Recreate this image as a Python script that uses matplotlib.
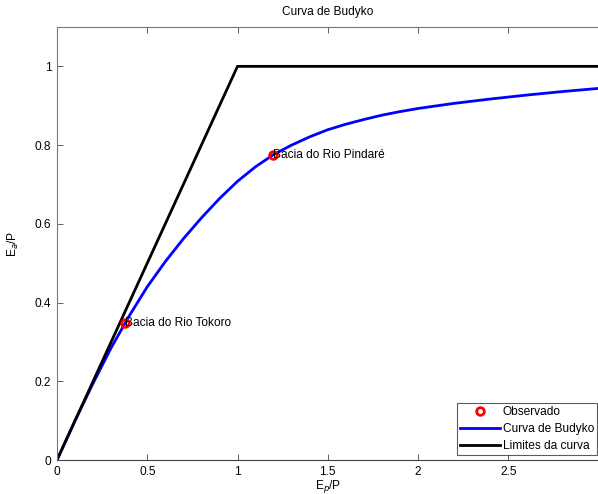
import matplotlib
matplotlib.use("Agg")
import matplotlib.pyplot as plt

plt.rcParams['font.family'] = ['Liberation Sans', 'DejaVu Sans']

# Budyko curve
curve_x = [0.0, 0.1, 0.2, 0.3, 0.4, 0.5, 0.6, 0.7, 0.8, 0.9, 1.0,
           1.1, 1.2, 1.3, 1.4, 1.5, 1.6, 1.7, 1.8, 1.9, 2.0,
           2.2, 2.4, 2.6, 2.8, 3.0]
curve_y = [0.0, 0.100, 0.195, 0.285, 0.366, 0.440, 0.504, 0.562, 0.615, 0.664, 0.708,
           0.745, 0.776, 0.800, 0.821, 0.839, 0.853, 0.865, 0.876, 0.885, 0.893,
           0.906, 0.917, 0.927, 0.936, 0.944]

# Limits of the curve
lim_x = [0.0, 1.0, 3.0]
lim_y = [0.0, 1.0, 1.0]

# Observed basins
obs_x = [0.377, 1.197]
obs_y = [0.349, 0.776]
obs_names = ['Bacia do Rio Tokoro', 'Bacia do Rio Pindaré']

xticks = [0, 0.5, 1, 1.5, 2, 2.5]
xtick_labels = ['0', '0.5', '1', '1.5', '2', '2.5']
yticks = [0, 0.2, 0.4, 0.6, 0.8, 1.0]
ytick_labels = ['0', '0.2', '0.4', '0.6', '0.8', '1']

fs = 8.6

fig = plt.figure(figsize=(5.98, 4.94), dpi=100)
ax = fig.add_axes([57/598, 1-460/494, (598.5-57)/598, (460-27)/494])

ax.plot(obs_x, obs_y, 'o', mfc='none', mec='red', ms=5.5, mew=2, label='Observado', zorder=5)
ax.plot(curve_x, curve_y, color='blue', lw=2, label='Curva de Budyko',
        solid_joinstyle='round')
ax.plot(lim_x, lim_y, color='black', lw=2, label='Limites da curva')

for x, y, n in zip(obs_x, obs_y, obs_names):
    ax.text(x, y, n, fontsize=fs, va='center', ha='left', zorder=6)

ax.set_xlim(0, 3)
ax.set_ylim(0, 1.1)
ax.set_xticks(xticks)
ax.set_xticklabels(xtick_labels)
ax.set_yticks(yticks)
ax.set_yticklabels(ytick_labels)
ax.tick_params(direction='in', top=True, right=False, labelsize=fs, length=4, width=0.6,
               color='#444444', pad=4)
for s in ax.spines.values():
    s.set_color('#777777')
    s.set_linewidth(0.8)
ax.spines['bottom'].set_color('#444444')

ax.set_title('Curva de Budyko', fontsize=fs, pad=9)
ax.set_xlabel('E$_p$/P', fontsize=fs, labelpad=0.5)
ax.set_ylabel('E$_a$/P', fontsize=fs, labelpad=10)

leg = ax.legend(loc='lower right', fontsize=fs, frameon=True, fancybox=False,
                borderpad=0.25, labelspacing=0.4, handlelength=3.3, handletextpad=0.25,
                borderaxespad=0.0, bbox_to_anchor=(0.997, 0.012))
leg.get_frame().set_edgecolor('#333333')
leg.get_frame().set_linewidth(0.8)

fig.savefig('out.png', dpi=100)
